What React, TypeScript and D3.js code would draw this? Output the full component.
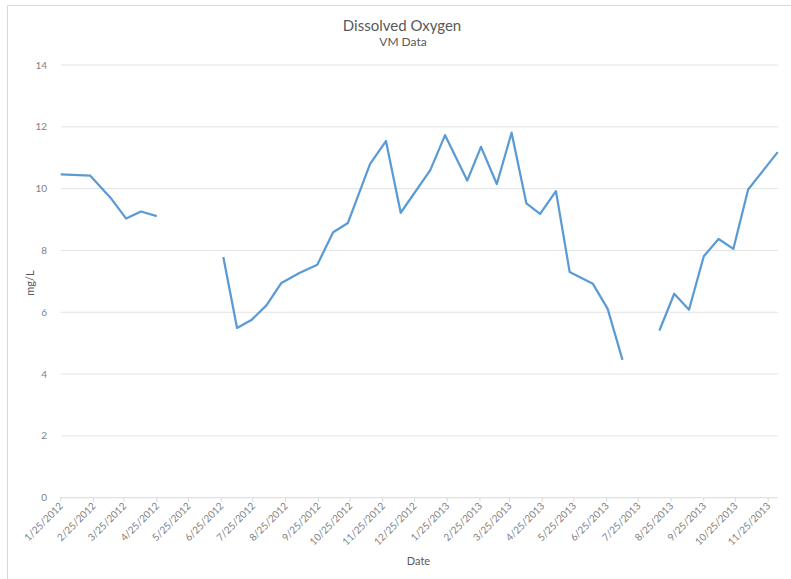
import React from "react";
import * as d3 from "d3";

const dates: string[] = [
  "1/25/2012", "2/22/2012", "3/13/2012", "3/27/2012", "4/10/2012", "4/25/2012", "5/9/2012",
  "6/27/2012", "7/10/2012", "7/24/2012", "8/7/2012", "8/21/2012", "9/7/2012", "9/24/2012",
  "10/9/2012", "10/23/2012", "11/13/2012", "11/28/2012", "12/12/2012", "1/9/2013", "1/23/2013",
  "2/13/2013", "2/26/2013", "3/13/2013", "3/27/2013", "4/10/2013", "4/23/2013", "5/8/2013",
  "5/21/2013", "6/12/2013", "6/26/2013", "7/10/2013", "7/24/2013", "8/14/2013", "8/28/2013",
  "9/11/2013", "9/25/2013", "10/9/2013", "10/23/2013", "11/6/2013", "12/4/2013",
];
const oxygen: (number | null)[] = [
  10.46, 10.42, 9.67, 9.03, 9.26, 9.11, null,
  7.79, 5.49, 5.76, 6.23, 6.95, 7.27, 7.54,
  8.59, 8.89, 10.8, 11.54, 9.22, 10.6, 11.73,
  10.26, 11.35, 10.15, 11.81, 9.52, 9.18, 9.92,
  7.3, 6.92, 6.11, 4.46, null, 5.41, 6.6,
  6.08, 7.81, 8.37, 8.05, 9.97, 11.18,
];
const yTicks: number[] = [0, 2, 4, 6, 8, 10, 12, 14];
const xTickLabels: string[] = [
  "1/25/2012", "2/25/2012", "3/25/2012", "4/25/2012", "5/25/2012", "6/25/2012", "7/25/2012",
  "8/25/2012", "9/25/2012", "10/25/2012", "11/25/2012", "12/25/2012", "1/25/2013", "2/25/2013",
  "3/25/2013", "4/25/2013", "5/25/2013", "6/25/2013", "7/25/2013", "8/25/2013", "9/25/2013",
  "10/25/2013", "11/25/2013",
];
const title = "Dissolved Oxygen";
const subtitle = "VM Data";
const xTitle = "Date";
const yTitle = "mg/L";

const parse = d3.timeParse("%m/%d/%Y");

export default function App() {
  const W = 791, H = 579;
  const left = 60.7, right = 777.7, top = 65, bottom = 497.7;
  const data = dates.map((d, i) => ({ date: parse(d) as Date, v: oxygen[i] }));
  const x = d3.scaleTime()
    .domain([data[0].date, data[data.length - 1].date])
    .range([left, right]);
  const y = d3.scaleLinear().domain([0, 14]).range([bottom, top]);
  const line = d3.line<{ date: Date; v: number | null }>()
    .defined((d) => d.v != null)
    .x((d) => x(d.date))
    .y((d) => y(d.v as number));
  const font = "Lato, 'Open Sans', sans-serif";
  return (
    <svg width={W} height={H} style={{ position: "absolute", left: 0, top: 0 }} fontFamily={font}>
      <rect x={0} y={0} width={W} height={H} fill="#fff" />
      <path d={`M7.5,${H}V5.5H${W}`} fill="none" stroke="#d9d9d9" strokeWidth={1} />
      <text x={402} y={31} textAnchor="middle" fontSize={15} fill="#595959">{title}</text>
      <text x={403} y={46} textAnchor="middle" fontSize={12} fill="#595959">{subtitle}</text>
      {yTicks.map((t) => (
        <g key={t}>
          {t !== 0 && (
            <line x1={left} x2={right} y1={y(t)} y2={y(t)} stroke="#e3e3e3" strokeWidth={1} />
          )}
          <text x={47} y={y(t) + 3.5} textAnchor="end" fontSize={10} fill="#7f7f7f">{t}</text>
        </g>
      ))}
      <line x1={left} x2={right} y1={bottom} y2={bottom} stroke="#d9d9d9" strokeWidth={1} />
      {xTickLabels.map((l) => {
        const tx = x(parse(l) as Date);
        return (
          <g key={l}>
            <line x1={tx} x2={tx} y1={bottom} y2={bottom + 4} stroke="#d9d9d9" strokeWidth={1} />
            <text
              transform={`translate(${tx + 3},${bottom + 9}) rotate(-45)`}
              textAnchor="end"
              fontSize={10}
              fill="#7f7f7f"
            >{l}</text>
          </g>
        );
      })}
      <path d={line(data) || ""} fill="none" stroke="#5b9bd5" strokeWidth={2.25} strokeLinejoin="round" />
      <text x={418.5} y={565} textAnchor="middle" fontSize={11} fill="#595959">{xTitle}</text>
      <text transform={`translate(34,283) rotate(-90)`} textAnchor="middle" fontSize={11} fill="#595959">{yTitle}</text>
    </svg>
  );
}
